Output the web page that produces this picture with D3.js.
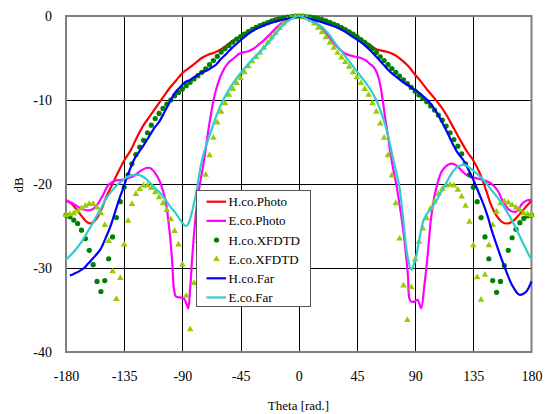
<!DOCTYPE html>
<html>
<head>
<meta charset="utf-8">
<script src="https://cdn.jsdelivr.net/npm/d3@7"></script>
<style>
  html, body { margin: 0; padding: 0; background: #fff; }
  svg { display: block; }
  svg text { font-family: "Liberation Serif", "Times New Roman", serif !important; fill: #000; }
</style>
</head>
<body>
<svg id="chart" width="549" height="414"></svg>
<script>
// Tick values
const xTicks = [-180, -135, -90, -45, 0, 45, 90, 135, 180];
const yTicks = [-40, -30, -20, -10, 0];

// Measured patterns (theta in degrees, level in dB)
const hPhotoTheta = [-180,-176,-172,-168,-164,-161,-158,-155,-152,-149,-145,-140,-135,-130,-125,-120,-115,-110,-105,-100,-95,-90,-85,-80,-75,-70,-65,-60,-55,-50,-45,-40,-35,-30,-25,-20,-15,-10,-5,0,5,10,15,20,25,30,35,40,45,50,55,60,65,70,75,80,85,90,95,100,105,110,115,120,125,130,135,140,145,149,153,157,161,165,169,173,177,180];
const hPhotoDb = [-22.0,-22.3,-23.0,-23.8,-24.5,-24.7,-24.4,-23.8,-22.8,-21.6,-20.3,-18.7,-17.2,-16.0,-14.4,-13.0,-11.9,-10.8,-9.7,-8.6,-7.7,-6.8,-6.2,-5.6,-5.0,-4.6,-4.35,-3.95,-3.4,-2.85,-2.4,-1.95,-1.5,-1.1,-0.75,-0.45,-0.25,-0.1,-0.02,0,-0.03,-0.12,-0.27,-0.48,-0.78,-1.1,-1.5,-1.9,-2.4,-2.95,-3.45,-3.95,-4.15,-4.35,-4.7,-5.3,-6.0,-7.0,-7.9,-8.9,-9.8,-10.8,-12.0,-13.4,-14.8,-16.1,-17.2,-18.7,-20.8,-22.6,-23.8,-24.5,-24.7,-24.5,-23.9,-23.2,-22.5,-22.0];

const ePhotoTheta = [-180,-175,-170,-165,-161,-157,-152,-147,-142,-137,-132,-127,-122,-118,-115,-112,-109,-106,-103,-100,-98,-96.5,-95,-92,-89,-87,-85.5,-84,-82.5,-80,-78,-76,-74,-72,-70,-68,-66,-64,-62,-60,-57,-54,-50,-46,-42,-39,-35,-31,-27,-23,-20,-16,-12,-8,-4,0,4,8,12,16,20,24,28,32,36,40,44,48,52,55,58,60,62,63.5,65,67,69,71,73,75.5,78,80.5,83,84.5,85.5,87,89.5,92,94.6,97,99.8,102.3,106,111,117,121,124,128,132,137,142,147,150,153,155,157,159,161,163,166,168,170,173,176,180];
const ePhotoDb = [-21.9,-22.3,-22.8,-23.1,-23.1,-22.7,-21.5,-20.1,-19.6,-19.5,-19.3,-19.0,-18.4,-18.1,-18.1,-18.5,-19.2,-20.3,-22.0,-25.5,-29.0,-32.5,-33.4,-33.5,-33.6,-34.2,-34.8,-32.5,-29.0,-24.2,-21.5,-19.6,-17.9,-15.9,-13.7,-11.8,-10.1,-8.8,-7.8,-7.0,-6.1,-5.5,-5.0,-4.5,-4.3,-4.2,-3.9,-3.4,-2.9,-2.3,-1.8,-1.2,-0.7,-0.3,-0.1,0,-0.1,-0.3,-0.7,-1.2,-1.8,-2.6,-3.4,-4.0,-4.5,-4.7,-4.85,-5.0,-5.3,-5.7,-6.1,-6.6,-7.5,-8.6,-10.1,-12.3,-14.3,-16.4,-18.2,-20.1,-22.5,-25.1,-28.5,-31.0,-33.6,-34.0,-34.0,-33.8,-34.8,-32.3,-28.3,-24.1,-20.7,-18.4,-17.6,-17.7,-18.1,-18.7,-19.1,-19.3,-19.5,-19.8,-20.1,-20.6,-21.1,-21.8,-22.3,-22.8,-23.1,-23.3,-23.3,-23.0,-22.3,-22.0,-21.9];

// Simulated patterns, sampled every 3 degrees from -180 to 180
const xfdtdTheta = d3.range(-180, 181, 3);
const hXfdtdDb = [-23.7,-23.9,-24.3,-24.7,-25.5,-26.5,-27.9,-29.6,-31.6,-32.8,-31.5,-28.9,-26.3,-24.0,-22.1,-20.4,-18.9,-17.6,-16.5,-15.6,-14.8,-13.9,-13.0,-12.2,-11.6,-11.0,-10.5,-10.0,-9.5,-9.1,-8.7,-8.3,-7.9,-7.5,-7.1,-6.7,-6.3,-5.8,-5.3,-4.8,-4.3,-3.9,-3.5,-3.1,-2.75,-2.45,-2.15,-1.85,-1.6,-1.35,-1.15,-0.95,-0.78,-0.6,-0.45,-0.33,-0.22,-0.12,-0.06,-0.02,0,-0.02,-0.06,-0.12,-0.2,-0.3,-0.42,-0.58,-0.75,-0.95,-1.15,-1.38,-1.62,-1.88,-2.15,-2.45,-2.8,-3.15,-3.5,-3.9,-4.35,-4.85,-5.3,-5.8,-6.25,-6.7,-7.15,-7.6,-8.05,-8.5,-8.95,-9.4,-9.8,-10.2,-10.7,-11.2,-11.8,-12.4,-13.1,-13.9,-14.7,-15.5,-16.4,-17.6,-18.9,-20.4,-22.1,-24.0,-26.3,-28.9,-31.5,-32.9,-31.6,-29.7,-27.9,-26.4,-25.4,-24.6,-24.1,-23.8,-23.7];
const eXfdtdDb = [-23.7,-23.6,-23.5,-23.2,-22.9,-22.6,-22.4,-22.4,-22.8,-23.5,-24.9,-26.8,-30.4,-33.7,-31.2,-27.2,-24.4,-22.4,-21.2,-20.6,-20.2,-20.2,-20.5,-21.0,-21.6,-22.3,-23.1,-24.2,-25.6,-27.2,-29.6,-33.3,-37.3,-31.8,-26.8,-22.5,-18.9,-16.6,-14.5,-12.7,-11.4,-10.4,-9.4,-8.7,-8.0,-7.4,-6.7,-6.0,-5.4,-4.9,-4.4,-3.8,-3.15,-2.55,-2.0,-1.45,-0.9,-0.45,-0.2,-0.1,-0.1,-0.1,-0.2,-0.45,-0.9,-1.4,-1.95,-2.55,-3.2,-3.8,-4.4,-4.95,-5.5,-6.05,-6.7,-7.3,-8.0,-8.7,-9.4,-10.4,-11.4,-12.8,-14.5,-16.6,-19.0,-22.3,-26.5,-32.1,-36.2,-32.3,-29.0,-26.9,-25.3,-24.1,-22.9,-22.1,-21.2,-20.6,-20.2,-20.1,-20.2,-20.7,-21.5,-22.6,-24.5,-27.3,-31.1,-33.8,-30.8,-27.3,-24.9,-23.3,-22.3,-22.1,-22.2,-22.5,-22.8,-23.1,-23.5,-23.6,-23.7];

// Far-field patterns
const hFarTheta = [-177,-174,-170,-166,-163,-160,-156,-153,-149,-146,-143,-139,-136,-132.6,-127.4,-124,-120,-116,-112,-108,-104,-100,-96,-92,-88,-84,-80,-76,-72,-68,-64,-60,-56,-52,-48,-44,-40,-36,-32,-28,-24,-20,-16,-12,-8,-4,0,5,10,15,20,25,30,35,40,45,50,55,60,65,70,75,80,85,90,95,100,105,110,115,119,123,127,131,135,138,141.5,144,146.6,149,151.8,154.5,157,159.5,162,164.5,167.2,169,171,173.5,176,178,180];
const hFarDb = [-30.9,-30.7,-30.4,-30.0,-29.5,-29.0,-28.3,-27.7,-26.3,-25.2,-23.8,-21.9,-20.6,-19.1,-17.1,-16.3,-15.4,-14.4,-13.4,-12.6,-11.5,-10.3,-9.2,-8.5,-7.9,-7.6,-7.2,-6.8,-6.55,-6.2,-5.8,-5.1,-4.5,-3.85,-3.3,-2.75,-2.25,-1.8,-1.45,-1.2,-0.95,-0.75,-0.58,-0.42,-0.3,-0.18,-0.1,-0.2,-0.4,-0.62,-0.85,-1.1,-1.4,-1.8,-2.3,-2.8,-3.35,-4.05,-4.85,-5.7,-6.55,-7.2,-7.8,-8.3,-8.8,-9.4,-10.1,-11.1,-12.4,-13.9,-15.2,-16.3,-17.1,-18.2,-19.5,-20.6,-21.9,-22.9,-24.1,-25.4,-26.7,-27.9,-29.0,-30.0,-31.0,-31.9,-32.6,-33.0,-33.2,-33.1,-32.8,-32.3,-31.6];

const eFarTheta = [-180,-176,-172,-168,-164.9,-161,-157,-153,-149.3,-145,-141.7,-138,-134,-130,-126,-122,-118,-114.8,-111,-107,-103,-99.4,-95.5,-91.6,-89,-87,-85,-83,-81,-79,-77,-75,-72,-68,-64,-60,-56,-52,-48,-44,-40,-36,-32,-28,-24,-20,-16,-12,-8,-4,0,4,8,12,16,20,24,28,32,36,40,44,48,52,56,60,63,66,69,72,75,78,81,84,86.9,88.5,90.7,92.5,94.6,96.5,98.5,102,106,110,114,118,121.6,125,128,134,141.5,149,157,164.7,172.4,178.8,180];
const eFarDb = [-29.0,-28.4,-27.7,-26.9,-26.1,-25.1,-24.0,-22.9,-21.8,-20.9,-20.3,-19.8,-19.3,-19.0,-18.9,-19.0,-19.4,-19.9,-20.5,-21.1,-21.9,-22.7,-23.4,-24.3,-24.8,-25.0,-24.6,-23.6,-22.3,-20.8,-18.9,-17.3,-15.6,-13.8,-12.0,-10.5,-9.3,-8.3,-7.4,-6.6,-5.9,-5.2,-4.6,-3.95,-3.3,-2.5,-1.75,-1.1,-0.55,-0.2,0,-0.2,-0.5,-0.8,-1.1,-1.6,-2.3,-3.2,-4.0,-4.8,-5.6,-6.4,-7.2,-8.0,-8.9,-10.0,-11.2,-12.5,-14.2,-16.3,-18.3,-20.5,-24.5,-28.5,-30.2,-29.8,-28.7,-27.2,-25.5,-24.3,-23.7,-23.0,-22.1,-21.0,-19.9,-18.8,-18.1,-17.8,-17.7,-18.3,-19.3,-20.7,-22.3,-24.3,-26.7,-28.7,-29.0];

const legendNames = ["H.co.Photo", "E.co.Photo", "H.co.XFDTD", "E.co.XFDTD", "H.co.Far", "E.co.Far"];

const colors = {
  hPhoto: "#ff0000",
  ePhoto: "#ff00ff",
  hXfdtd: "#007f00",
  eXfdtd: "#99cc00",
  hFar: "#0000ff",
  eFar: "#33cccc"
};

const svg = d3.select("#chart");
const plot = { left: 66, right: 531.5, top: 16, bottom: 352 };

const x = d3.scaleLinear().domain([-180, 180]).range([plot.left, plot.right]);
const y = d3.scaleLinear().domain([-40, 0]).range([plot.bottom, plot.top]);

// Grid
const grid = svg.append("g").attr("shape-rendering", "crispEdges");
grid.selectAll("line.v").data(xTicks.slice(1, -1)).join("line")
  .attr("x1", d => Math.round(x(d)) + 0.5).attr("x2", d => Math.round(x(d)) + 0.5)
  .attr("y1", plot.top).attr("y2", plot.bottom)
  .attr("stroke", "#000").attr("stroke-width", 1);
grid.selectAll("line.h").data(yTicks.slice(1, -1)).join("line")
  .attr("y1", d => Math.round(y(d)) + 0.5).attr("y2", d => Math.round(y(d)) + 0.5)
  .attr("x1", plot.left).attr("x2", plot.right)
  .attr("stroke", "#000").attr("stroke-width", 1);

// Frame
svg.append("rect")
  .attr("x", plot.left).attr("y", plot.top)
  .attr("width", plot.right - plot.left).attr("height", plot.bottom - plot.top)
  .attr("fill", "none").attr("stroke", "#808080").attr("stroke-width", 2);

// Axes (labels only); plain hyphen-minus in the labels
const plainFormat = d => String(d);
const xAxis = svg.append("g")
  .attr("transform", `translate(0,${plot.bottom})`)
  .call(d3.axisBottom(x).tickValues(xTicks).tickSize(0).tickPadding(19).tickFormat(plainFormat));
const yAxis = svg.append("g")
  .attr("transform", `translate(${plot.left},0)`)
  .call(d3.axisLeft(y).tickValues(yTicks).tickSize(0).tickPadding(14).tickFormat(plainFormat));
[xAxis, yAxis].forEach(a => {
  a.select(".domain").remove();
  a.attr("font-family", null).attr("font-size", 14);
  a.selectAll("text").style("font-size", "14px");
});

svg.append("text")
  .attr("x", 298.5).attr("y", 410)
  .attr("text-anchor", "middle").style("font-size", "13px")
  .text("Theta [rad.]");
svg.append("text")
  .attr("transform", "translate(23,185) rotate(-90)")
  .attr("text-anchor", "middle").style("font-size", "13px")
  .text("dB");

const line = d3.line().curve(d3.curveCatmullRom.alpha(0.5));
function drawLine(thetas, dbs, color) {
  svg.append("path")
    .attr("d", line(thetas.map((t, i) => [x(t), y(dbs[i])])))
    .attr("fill", "none").attr("stroke", color)
    .attr("stroke-width", 2.2).attr("stroke-linejoin", "round");
}

drawLine(hPhotoTheta, hPhotoDb, colors.hPhoto);
drawLine(ePhotoTheta, ePhotoDb, colors.ePhoto);

// H.co.XFDTD dots
svg.append("g").selectAll("circle").data(xfdtdTheta).join("circle")
  .attr("cx", d => x(d)).attr("cy", (d, i) => y(hXfdtdDb[i]))
  .attr("r", 2.6).attr("fill", colors.hXfdtd);

// E.co.XFDTD triangles
const tri = d3.symbol().type(d3.symbolTriangle).size(19);
svg.append("g").selectAll("path").data(xfdtdTheta).join("path")
  .attr("transform", (d, i) => `translate(${x(d)},${y(eXfdtdDb[i])})`)
  .attr("d", tri).attr("fill", colors.eXfdtd);

drawLine(hFarTheta, hFarDb, colors.hFar);
drawLine(eFarTheta, eFarDb, colors.eFar);

// Legend
const lg = svg.append("g");
lg.append("rect")
  .attr("x", 196.5).attr("y", 190.5).attr("width", 114).attr("height", 116)
  .attr("fill", "#fff").attr("stroke", "#555").attr("stroke-width", 1);
const legendKeys = ["hPhoto", "ePhoto", "hXfdtd", "eXfdtd", "hFar", "eFar"];
legendNames.forEach((name, i) => {
  const cy = 201.7 + i * 19.15;
  const key = legendKeys[i];
  if (key === "hXfdtd") {
    lg.append("circle").attr("cx", 216.5).attr("cy", cy).attr("r", 2.6).attr("fill", colors[key]);
  } else if (key === "eXfdtd") {
    lg.append("path").attr("transform", `translate(216.5,${cy})`).attr("d", tri).attr("fill", colors[key]);
  } else {
    lg.append("line").attr("x1", 206.5).attr("x2", 226).attr("y1", cy).attr("y2", cy)
      .attr("stroke", colors[key]).attr("stroke-width", 2.2);
  }
  lg.append("text").attr("x", 228.5).attr("y", cy + 4.5)
    .style("font-size", "13px").text(name);
});
</script>
</body>
</html>
